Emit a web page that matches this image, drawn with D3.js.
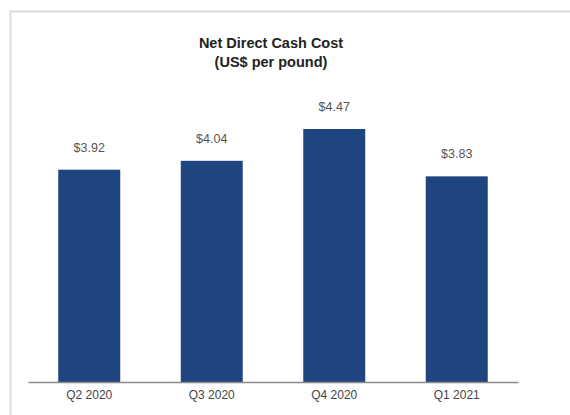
<!DOCTYPE html>
<html>
<head>
<meta charset="utf-8">
<script src="https://cdn.jsdelivr.net/npm/d3@7"></script>
<style>
  html, body { margin: 0; padding: 0; background: #ffffff; overflow: hidden; }
  svg { display: block; }
</style>
</head>
<body>
<script>
// Quarterly net direct cash cost, US$ per pound
const quarters = ["Q2 2020", "Q3 2020", "Q4 2020", "Q1 2021"];
const cashCost = [3.92, 4.04, 4.47, 3.83];
const titleLines = ["Net Direct Cash Cost", "(US$ per pound)"];

const W = 570, H = 415;
const svg = d3.select("body").append("svg")
  .attr("width", W).attr("height", H);

// panel frame (top and left edges visible)
svg.append("rect")
  .attr("x", 10.5).attr("y", 11.5)
  .attr("width", W + 10).attr("height", H + 10)
  .attr("fill", "#ffffff")
  .attr("stroke", "#dcdcdc")
  .attr("stroke-width", 2);

const baseY = 382;
const x = d3.scaleBand()
  .domain(quarters)
  .range([28, 518])
  .paddingInner(0.494)
  .paddingOuter(0.247);

const y = d3.scaleLinear()
  .domain([1.05, 4.47])
  .range([baseY, 129]);

// title
svg.append("text")
  .attr("x", 271).attr("text-anchor", "middle")
  .attr("font-family", "Liberation Sans, Arial, sans-serif")
  .attr("font-weight", "bold")
  .attr("font-size", 14.5)
  .attr("fill", "#222")
  .selectAll("tspan")
  .data(titleLines)
  .join("tspan")
  .attr("x", 271)
  .attr("y", (d, i) => 48 + i * 19)
  .text(d => d);

// bars
svg.append("g").selectAll("rect")
  .data(cashCost)
  .join("rect")
  .attr("x", (d, i) => x(quarters[i]))
  .attr("y", d => y(d))
  .attr("width", x.bandwidth())
  .attr("height", d => baseY - y(d))
  .attr("fill", "#1f4580");

// value labels
svg.append("g").selectAll("text")
  .data(cashCost)
  .join("text")
  .attr("x", (d, i) => x(quarters[i]) + x.bandwidth() / 2)
  .attr("y", d => y(d) - 18)
  .attr("text-anchor", "middle")
  .attr("font-family", "Liberation Sans, Arial, sans-serif")
  .attr("font-size", 12.5)
  .attr("fill", "#555")
  .text(d => "$" + d.toFixed(2));

// category axis
const axis = svg.append("g")
  .attr("transform", `translate(0,${baseY})`)
  .call(d3.axisBottom(x).tickSize(0).tickPadding(8));
axis.select(".domain")
  .attr("stroke", "#8a8a8a")
  .attr("stroke-width", 1.5);
axis.selectAll("text")
  .attr("font-family", "Liberation Sans, Arial, sans-serif")
  .attr("font-size", 12)
  .attr("fill", "#444");
</script>
</body>
</html>
